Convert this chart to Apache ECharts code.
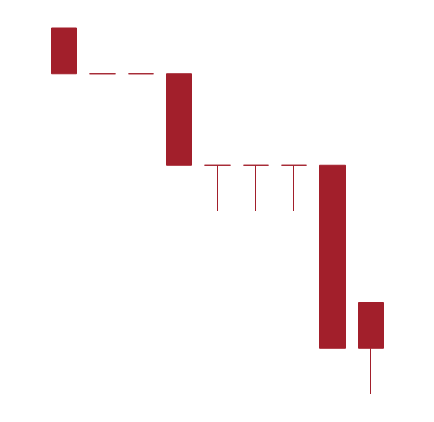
<!DOCTYPE html>
<html>
<head>
<meta charset="utf-8">
<script src="https://cdn.jsdelivr.net/npm/echarts@6/dist/echarts.min.js"></script>
<style>html,body{margin:0;padding:0;background:#fff;}#c{width:434px;height:422px;}</style>
</head>
<body>
<div id="c"></div>
<script>
var categories = ['1','2','3','4','5','6','7','8','9'];
var openV  = [8,7,7,7,5,5,5,5,2];
var closeV = [7,7,7,5,5,5,5,1,1];
var lowV   = [7,7,7,5,4,4,4,1,0];
var highV  = [8,7,7,7,5,5,5,5,2];
var data = categories.map(function(c,i){return [openV[i],closeV[i],lowV[i],highV[i]];});
var col = '#a21f2b';
var chart = echarts.init(document.getElementById('c'));
chart.setOption({
  animation:false,
  backgroundColor:'#ffffff',
  grid:{left:45,right:44,top:28,bottom:28},
  xAxis:{type:'category',data:categories,show:false},
  yAxis:{type:'value',min:0,max:8,show:false},
  series:[{
    type:'candlestick',
    data:data,
    barWidth:26,
    itemStyle:{color:col,color0:col,borderColor:col,borderColor0:col,borderColorDoji:col,borderWidth:1}
  }]
});
</script>
</body>
</html>
